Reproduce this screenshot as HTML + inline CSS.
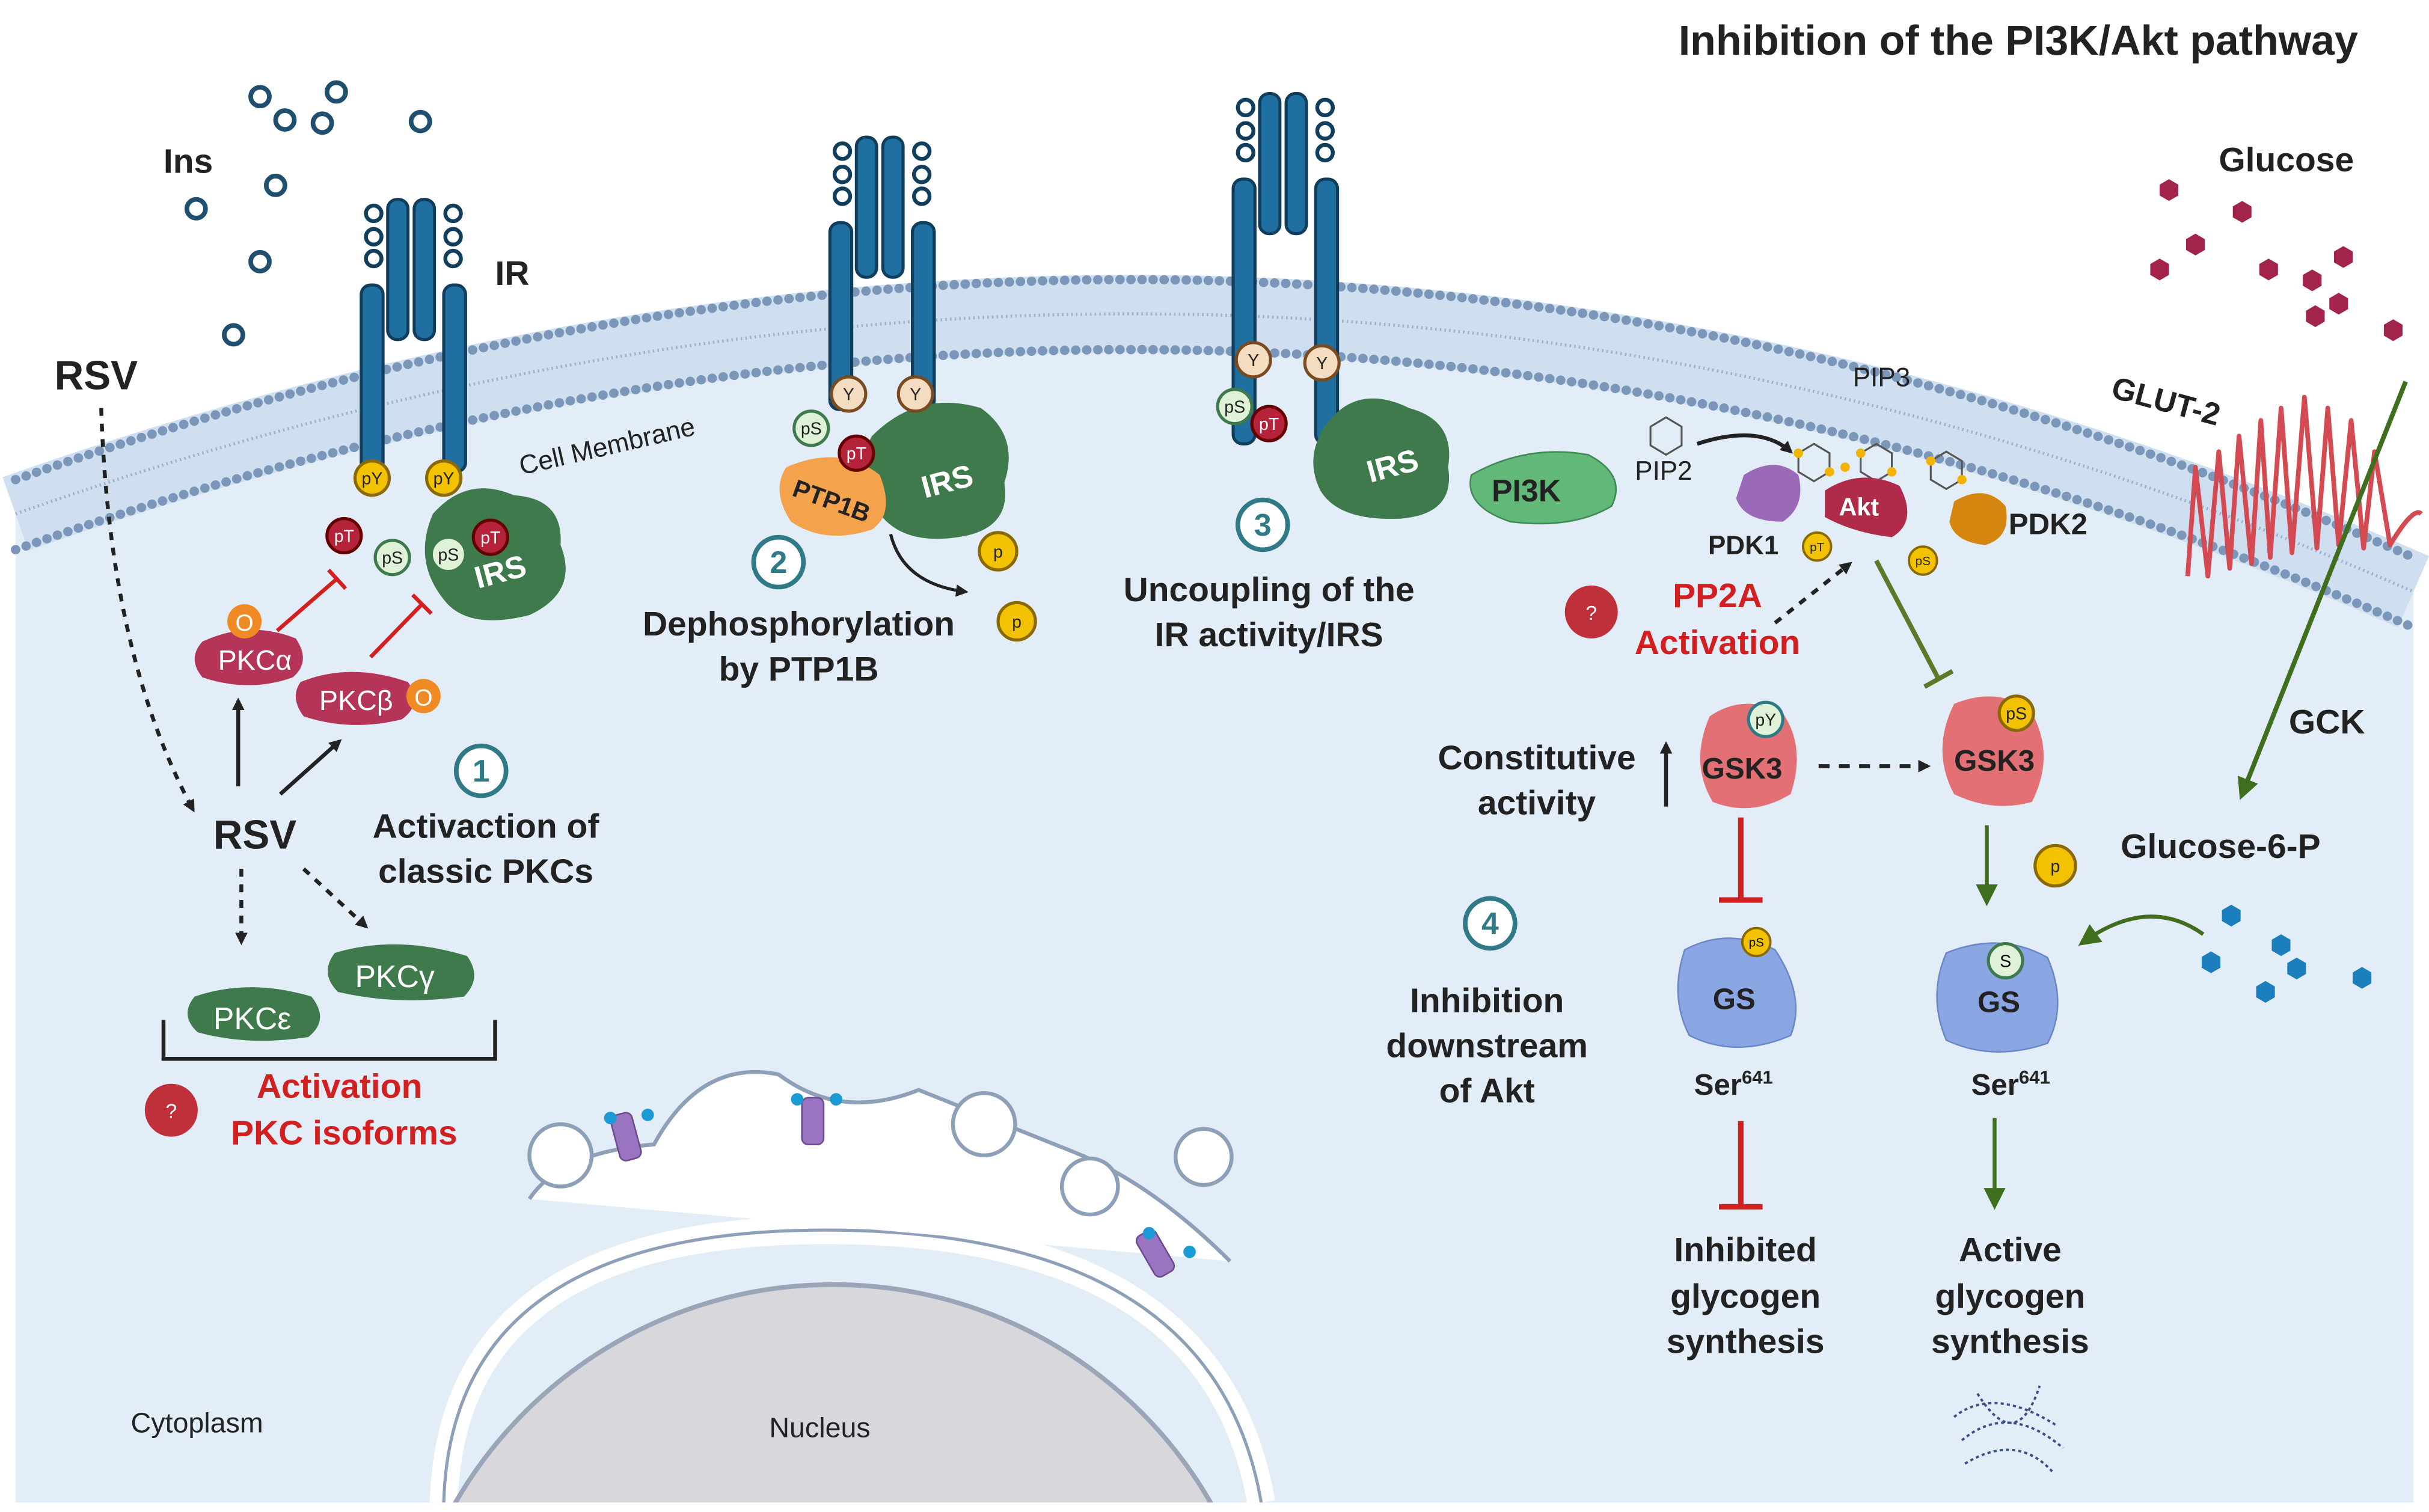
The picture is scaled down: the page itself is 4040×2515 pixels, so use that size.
<!DOCTYPE html>
<html><head><meta charset="utf-8"><style>
html,body{margin:0;padding:0;background:#fff;overflow:hidden;width:4040px;height:2515px}
svg{display:block}
text{font-family:"Liberation Sans",Arial,sans-serif}
.b{font-weight:bold;fill:#222}
.r{font-weight:bold;fill:#d21f1f}
</style></head><body>
<svg width="4040" height="2515" viewBox="0 0 1560 971" xmlns="http://www.w3.org/2000/svg">
<defs>
<marker id="ak" markerWidth="8" markerHeight="8" refX="6" refY="4" orient="auto" markerUnits="userSpaceOnUse"><path d="M0,0 L8,4 L0,8 z" fill="#222"/></marker>
<marker id="ag" markerWidth="14" markerHeight="14" refX="10" refY="7" orient="auto" markerUnits="userSpaceOnUse"><path d="M0,0 L14,7 L0,14 z" fill="#3f6e1e"/></marker>
<g id="hexr"><polygon points="0,-7 6,-3.5 6,3.5 0,7 -6,3.5 -6,-3.5" fill="#a3244a"/></g>
<g id="hexb"><polygon points="0,-7 6,-3.5 6,3.5 0,7 -6,3.5 -6,-3.5" fill="#1b7fbd"/></g>
<clipPath id="cell"><path d="M10,330 Q800,50 1550,380 L1550,965 L10,965 Z"/></clipPath>
</defs>
<rect width="1560" height="971" fill="#fff"/>
<path d="M10,330 Q800,50 1550,380 L1550,965 L10,965 Z" fill="#e3edf7"/>
<path d="M10,330 Q800,50 1550,380" fill="none" stroke="#cfdff0" stroke-width="50"/>
<path d="M10,330 Q800,50 1550,380" fill="none" stroke="#9cb3cf" stroke-width="2" stroke-dasharray="1 2"/>
<path d="M10,308 Q800,28 1550,358" fill="none" stroke="#7a96b8" stroke-width="6" stroke-linecap="round" stroke-dasharray="0.1 7"/>
<path d="M10,353 Q800,73 1550,403" fill="none" stroke="#7a96b8" stroke-width="6" stroke-linecap="round" stroke-dasharray="0.1 7"/>
<text x="335" y="305" font-size="17" fill="#222" transform="rotate(-13 335 305)">Cell Membrane</text>

<g clip-path="url(#cell)">
<path d="M285,965 Q290,790 530,790 Q780,790 810,965" fill="none" stroke="#fff" stroke-width="18"/>
<path d="M285,965 Q290,790 530,790 Q780,790 810,965" fill="none" stroke="#8ea0b8" stroke-width="2"/>
<circle cx="535" cy="1105" r="280" fill="#d8d8dc" stroke="#9aa6b8" stroke-width="3"/>
<path d="M340,770 Q360,740 420,735 Q450,680 500,690 Q540,720 590,700 Q640,720 690,740 Q740,760 790,810" fill="#fff" stroke="#8ea0b8" stroke-width="2.5"/>
</g>
<circle cx="360" cy="742" r="20" fill="#fff" stroke="#8ea0b8" stroke-width="2.5"/>
<circle cx="632" cy="722" r="20" fill="#fff" stroke="#8ea0b8" stroke-width="2.5"/>
<circle cx="700" cy="762" r="18" fill="#fff" stroke="#8ea0b8" stroke-width="2.5"/>
<circle cx="773" cy="743" r="18" fill="#fff" stroke="#8ea0b8" stroke-width="2.5"/>
<g fill="#9a74c0" stroke="#6a4a90"><rect x="395" y="715" width="14" height="30" rx="4" transform="rotate(-15 402 730)"/><rect x="515" y="705" width="14" height="30" rx="4"/><rect x="735" y="790" width="14" height="30" rx="4" transform="rotate(-30 742 805)"/></g>
<g fill="#1b9ad6"><circle cx="392" cy="718" r="4"/><circle cx="416" cy="716" r="4"/><circle cx="512" cy="706" r="4"/><circle cx="537" cy="706" r="4"/><circle cx="738" cy="792" r="4"/><circle cx="764" cy="804" r="4"/></g>
<text x="494" y="923" font-size="18" fill="#222">Nucleus</text>
<text x="84" y="920" font-size="18" fill="#222">Cytoplasm</text>

<g fill="none" stroke="#1f4e6e" stroke-width="3"><circle cx="167" cy="62" r="6"/><circle cx="216" cy="59" r="6"/><circle cx="183" cy="77" r="6"/><circle cx="207" cy="79" r="6"/><circle cx="270" cy="78" r="6"/><circle cx="126" cy="134" r="6"/><circle cx="177" cy="119" r="6"/><circle cx="167" cy="168" r="6"/><circle cx="150" cy="215" r="6"/></g>
<text x="105" y="111" font-size="22" class="b">Ins</text>
<text x="318" y="183" font-size="22" class="b">IR</text>

<g fill="#1f6fa0" stroke="#123e5e" stroke-width="2">
<rect x="232" y="183" width="14" height="120" rx="6"/><rect x="249" y="128" width="13" height="90" rx="6"/><rect x="266" y="128" width="13" height="90" rx="6"/><rect x="285" y="183" width="14" height="120" rx="6"/>
</g>
<g fill="none" stroke="#123e5e" stroke-width="2.5"><circle cx="240" cy="137" r="5"/><circle cx="240" cy="152" r="5"/><circle cx="240" cy="166" r="5"/><circle cx="291" cy="137" r="5"/><circle cx="291" cy="152" r="5"/><circle cx="291" cy="166" r="5"/></g>
<g transform="translate(301,-40)">
<g fill="#1f6fa0" stroke="#123e5e" stroke-width="2"><rect x="232" y="183" width="14" height="120" rx="6"/><rect x="249" y="128" width="13" height="90" rx="6"/><rect x="266" y="128" width="13" height="90" rx="6"/><rect x="285" y="183" width="14" height="120" rx="6"/></g>
<g fill="none" stroke="#123e5e" stroke-width="2.5"><circle cx="240" cy="137" r="5"/><circle cx="240" cy="152" r="5"/><circle cx="240" cy="166" r="5"/><circle cx="291" cy="137" r="5"/><circle cx="291" cy="152" r="5"/><circle cx="291" cy="166" r="5"/></g></g>
<g transform="translate(560,-68)">
<g fill="#1f6fa0" stroke="#123e5e" stroke-width="2"><rect x="232" y="183" width="14" height="170" rx="6"/><rect x="249" y="128" width="13" height="90" rx="6"/><rect x="266" y="128" width="13" height="90" rx="6"/><rect x="285" y="183" width="14" height="170" rx="6"/></g>
<g fill="none" stroke="#123e5e" stroke-width="2.5"><circle cx="240" cy="137" r="5"/><circle cx="240" cy="152" r="5"/><circle cx="240" cy="166" r="5"/><circle cx="291" cy="137" r="5"/><circle cx="291" cy="152" r="5"/><circle cx="291" cy="166" r="5"/></g></g>

<g fill="#3f7a4c">
<path d="M278,330 Q300,305 330,318 Q362,320 360,350 Q372,380 340,395 Q300,405 285,385 Q265,360 278,330Z"/>
<path d="M560,280 Q590,250 630,262 Q655,280 645,310 Q650,340 615,345 Q580,350 565,330 Q545,305 560,280Z"/>
<path d="M850,275 Q870,245 905,262 Q935,270 930,300 Q935,330 900,333 Q860,335 848,315 Q838,295 850,275Z"/>
</g>
<g class="b" font-size="20"><text x="307" y="378" transform="rotate(-15 307 378)" style="fill:#fff">IRS</text><text x="594" y="320" transform="rotate(-15 594 320)" style="fill:#fff">IRS</text><text x="880" y="310" transform="rotate(-15 880 310)" style="fill:#fff">IRS</text></g>
<path d="M505,300 Q540,285 565,305 Q575,330 560,340 Q530,350 508,335 Q495,315 505,300Z" fill="#f4a24c"/>
<text x="508" y="318" font-size="16" class="b" transform="rotate(20 508 318)">PTP1B</text>

<g font-size="11" text-anchor="middle">
<circle cx="239" cy="307" r="11" fill="#f2c200" stroke="#8a6a00" stroke-width="2"/><text x="239" y="311" fill="#222">pY</text>
<circle cx="285" cy="307" r="11" fill="#f2c200" stroke="#8a6a00" stroke-width="2"/><text x="285" y="311" fill="#222">pY</text>
<circle cx="221" cy="344" r="11" fill="#b5233a" stroke="#600" stroke-width="2"/><text x="221" y="348" fill="#fff">pT</text>
<circle cx="252" cy="358" r="11" fill="#dff2d8" stroke="#3f7a4c" stroke-width="2"/><text x="252" y="362" fill="#222">pS</text>
<circle cx="288" cy="356" r="11" fill="#dff2d8" stroke="#3f7a4c" stroke-width="2"/><text x="288" y="360" fill="#222">pS</text>
<circle cx="315" cy="345" r="11" fill="#b5233a" stroke="#600" stroke-width="2"/><text x="315" y="349" fill="#fff">pT</text>
<circle cx="545" cy="253" r="11" fill="#f3dcc0" stroke="#7a4a20" stroke-width="2"/><text x="545" y="257" fill="#222">Y</text>
<circle cx="588" cy="253" r="11" fill="#f3dcc0" stroke="#7a4a20" stroke-width="2"/><text x="588" y="257" fill="#222">Y</text>
<circle cx="521" cy="275" r="11" fill="#dff2d8" stroke="#3f7a4c" stroke-width="2"/><text x="521" y="279" fill="#222">pS</text>
<circle cx="550" cy="291" r="11" fill="#b5233a" stroke="#600" stroke-width="2"/><text x="550" y="295" fill="#fff">pT</text>
<circle cx="805" cy="231" r="11" fill="#f3dcc0" stroke="#7a4a20" stroke-width="2"/><text x="805" y="235" fill="#222">Y</text>
<circle cx="849" cy="233" r="11" fill="#f3dcc0" stroke="#7a4a20" stroke-width="2"/><text x="849" y="237" fill="#222">Y</text>
<circle cx="793" cy="261" r="11" fill="#dff2d8" stroke="#3f7a4c" stroke-width="2"/><text x="793" y="265" fill="#222">pS</text>
<circle cx="815" cy="272" r="11" fill="#b5233a" stroke="#600" stroke-width="2"/><text x="815" y="276" fill="#fff">pT</text>
<circle cx="641" cy="354" r="12" fill="#f2c200" stroke="#8a6a00" stroke-width="2"/><text x="641" y="358" fill="#222">p</text>
<circle cx="653" cy="399" r="12" fill="#f2c200" stroke="#8a6a00" stroke-width="2"/><text x="653" y="403" fill="#222">p</text>
<circle cx="1320" cy="556" r="13" fill="#f2c200" stroke="#8a6a00" stroke-width="2"/><text x="1320" y="560" fill="#222">p</text>
<circle cx="1167" cy="351" r="9" fill="#f2c200" stroke="#8a6a00" stroke-width="1.5"/><text x="1167" y="354" font-size="8" fill="#222">pT</text>
<circle cx="1235" cy="360" r="9" fill="#f2c200" stroke="#8a6a00" stroke-width="1.5"/><text x="1235" y="363" font-size="8" fill="#222">pS</text>
</g>
<path d="M572,343 Q580,375 620,380" fill="none" stroke="#222" stroke-width="2" marker-end="url(#ak)"/>

<g fill="#b53558"><path d="M130,412 Q160,398 190,410 Q200,425 188,435 Q160,445 130,435 Q120,423 130,412Z"/><path d="M193,438 Q225,425 262,438 Q272,452 258,462 Q225,470 195,460 Q186,448 193,438Z"/></g>
<g fill="#3f7a4c"><path d="M125,640 Q160,628 200,640 Q212,655 198,666 Q160,672 127,663 Q115,652 125,640Z"/><path d="M215,612 Q255,600 300,614 Q310,628 298,640 Q255,646 217,637 Q205,625 215,612Z"/></g>
<g font-size="18"><text x="140" y="430" style="fill:#fff">PKCα</text><text x="205" y="456" style="fill:#fff">PKCβ</text><text x="137" y="661" font-size="20" style="fill:#fff">PKCε</text><text x="228" y="634" font-size="20" style="fill:#fff">PKCγ</text></g>
<circle cx="157" cy="399" r="11" fill="#ef8a25"/><text x="157" y="405" font-size="15" text-anchor="middle" fill="#fff">O</text>
<circle cx="272" cy="447" r="11" fill="#ef8a25"/><text x="272" y="453" font-size="15" text-anchor="middle" fill="#fff">O</text>
<g stroke="#d21f1f" stroke-width="2.5"><line x1="178" y1="405" x2="216" y2="372"/><line x1="211" y1="366" x2="222" y2="378"/><line x1="238" y1="422" x2="271" y2="388"/><line x1="265" y1="382" x2="277" y2="394"/></g>

<text x="35" y="250" font-size="26" class="b">RSV</text>
<text x="137" y="545" font-size="26" class="b">RSV</text>
<path d="M65,262 Q70,420 124,520" fill="none" stroke="#222" stroke-width="2.5" stroke-dasharray="5 5" marker-end="url(#ak)"/>
<g stroke="#222" stroke-width="2.5" fill="none">
<line x1="153" y1="505" x2="153" y2="450" marker-end="url(#ak)"/>
<line x1="180" y1="510" x2="218" y2="476" marker-end="url(#ak)"/>
<line x1="155" y1="558" x2="155" y2="605" stroke-dasharray="5 5" marker-end="url(#ak)"/>
<line x1="195" y1="558" x2="235" y2="595" stroke-dasharray="5 5" marker-end="url(#ak)"/>
<path d="M105,655 L105,680 L318,680 L318,655"/>
</g>

<g fill="#fff" stroke="#2f7a86" stroke-width="3"><circle cx="309" cy="495" r="16"/><circle cx="500" cy="361" r="16"/><circle cx="811" cy="337" r="16"/><circle cx="957" cy="593" r="16"/></g>
<g font-size="20" text-anchor="middle" font-weight="bold"><text x="309" y="502" style="fill:#2f7a86">1</text><text x="500" y="368" style="fill:#2f7a86">2</text><text x="811" y="344" style="fill:#2f7a86">3</text><text x="957" y="600" style="fill:#2f7a86">4</text></g>

<g class="b" font-size="22" text-anchor="middle">
<text x="312" y="538">Activaction of</text><text x="312" y="567">classic PKCs</text>
<text x="513" y="408">Dephosphorylation</text><text x="513" y="437">by PTP1B</text>
<text x="815" y="386">Uncoupling of the</text><text x="815" y="415">IR activity/IRS</text>
<text x="955" y="650">Inhibition</text><text x="955" y="679">downstream</text><text x="955" y="708">of Akt</text>
<text x="987" y="494">Constitutive</text><text x="987" y="523">activity</text>
<text x="1121" y="810">Inhibited</text><text x="1121" y="840">glycogen</text><text x="1121" y="869">synthesis</text>
<text x="1291" y="810">Active</text><text x="1291" y="840">glycogen</text><text x="1291" y="869">synthesis</text>
</g>
<g font-size="22" text-anchor="middle"><text x="218" y="705" class="r">Activation</text><text x="221" y="735" class="r">PKC isoforms</text><text x="1103" y="390" class="r">PP2A</text><text x="1103" y="420" class="r">Activation</text></g>
<g><circle cx="110" cy="713" r="17" fill="#c0303a"/><circle cx="1022" cy="393" r="17" fill="#c0303a"/><text x="110" y="718" font-size="13" fill="#fff" text-anchor="middle">?</text><text x="1022" y="398" font-size="13" fill="#fff" text-anchor="middle">?</text></g>

<text x="1078" y="35" font-size="27" class="b">Inhibition of the PI3K/Akt pathway</text>

<path d="M945,305 Q980,285 1020,292 Q1045,305 1035,325 Q1010,340 970,335 Q940,325 945,305Z" fill="#62b878" stroke="#3f8a55"/>
<text x="958" y="322" font-size="20" class="b">PI3K</text>
<text x="1050" y="308" font-size="17" fill="#222">PIP2</text>
<text x="1190" y="248" font-size="17" fill="#222">PIP3</text>
<path d="M1090,285 Q1130,272 1150,290" fill="none" stroke="#222" stroke-width="2.5" marker-end="url(#ak)"/>
<g fill="none" stroke="#555" stroke-width="1.2"><polygon points="1070,268 1080,274 1080,286 1070,292 1060,286 1060,274"/><polygon points="1165,285 1175,291 1175,303 1165,309 1155,303 1155,291"/><polygon points="1205,285 1215,291 1215,303 1205,309 1195,303 1195,291"/><polygon points="1250,290 1260,296 1260,308 1250,314 1240,308 1240,296"/></g>
<g fill="#f2b400"><circle cx="1155" cy="291" r="3"/><circle cx="1175" cy="303" r="3"/><circle cx="1195" cy="291" r="3"/><circle cx="1215" cy="303" r="3"/><circle cx="1240" cy="296" r="3"/><circle cx="1260" cy="308" r="3"/><circle cx="1185" cy="300" r="3"/></g>
<path d="M1120,305 Q1140,292 1155,305 Q1160,325 1145,335 Q1120,335 1115,320Z" fill="#9a6ab8"/>
<text x="1097" y="356" font-size="17" class="b">PDK1</text>
<path d="M1172,315 Q1195,300 1220,312 Q1232,335 1215,345 Q1190,342 1172,332Z" fill="#b02a4a"/>
<text x="1181" y="331" font-size="16" font-weight="bold" style="fill:#fff">Akt</text>
<path d="M1255,322 Q1275,310 1288,325 Q1292,345 1275,350 Q1255,348 1252,335Z" fill="#d4860e"/>
<text x="1290" y="343" font-size="19" class="b">PDK2</text>
<line x1="1140" y1="400" x2="1188" y2="362" stroke="#222" stroke-width="2.5" stroke-dasharray="5 5" marker-end="url(#ak)"/>
<g stroke="#5a7a2a" stroke-width="3"><line x1="1205" y1="360" x2="1245" y2="436"/><line x1="1236" y1="441" x2="1254" y2="431"/></g>

<path d="M1098,460 Q1120,445 1145,458 Q1160,480 1150,510 Q1125,525 1100,515 Q1085,490 1098,460Z" fill="#e37074"/>
<path d="M1255,452 Q1285,440 1305,458 Q1320,485 1305,515 Q1280,522 1255,510 Q1240,482 1255,452Z" fill="#e37074"/>
<text x="1093" y="500" font-size="19" class="b">GSK3</text><text x="1255" y="495" font-size="19" class="b">GSK3</text>
<circle cx="1134" cy="462" r="11" fill="#dff2d8" stroke="#2f7a86" stroke-width="2"/><text x="1134" y="466" font-size="11" text-anchor="middle" fill="#222">pY</text>
<circle cx="1295" cy="458" r="11" fill="#f2c200" stroke="#8a6a00" stroke-width="2"/><text x="1295" y="462" font-size="11" text-anchor="middle" fill="#222">pS</text>
<line x1="1070" y1="518" x2="1070" y2="478" stroke="#222" stroke-width="2.5" marker-end="url(#ak)"/>
<line x1="1168" y1="492" x2="1238" y2="492" stroke="#222" stroke-width="2.5" stroke-dasharray="7 6" marker-end="url(#ak)"/>
<path d="M1082,610 Q1110,595 1140,610 Q1160,640 1150,665 Q1115,680 1085,665 Q1072,640 1082,610Z" fill="#8aa7e4" stroke="#6a88c8"/>
<path d="M1250,612 Q1285,598 1315,615 Q1328,645 1315,670 Q1280,682 1250,668 Q1238,640 1250,612Z" fill="#8aa7e4" stroke="#6a88c8"/>
<text x="1100" y="648" font-size="19" class="b">GS</text><text x="1270" y="650" font-size="19" class="b">GS</text>
<circle cx="1128" cy="605" r="9" fill="#f2c200" stroke="#8a6a00" stroke-width="1.5"/><text x="1128" y="608" font-size="8" text-anchor="middle">pS</text>
<circle cx="1288" cy="617" r="11" fill="#dff2d8" stroke="#3f7a4c" stroke-width="2"/><text x="1288" y="621" font-size="11" text-anchor="middle">S</text>
<text x="1088" y="703" font-size="19" class="b">Ser<tspan font-size="12" dy="-7">641</tspan></text>
<text x="1266" y="703" font-size="19" class="b">Ser<tspan font-size="12" dy="-7">641</tspan></text>
<g stroke="#d21f1f" stroke-width="3.5"><line x1="1118" y1="525" x2="1118" y2="578"/><line x1="1104" y1="578" x2="1132" y2="578"/><line x1="1118" y1="720" x2="1118" y2="775"/><line x1="1104" y1="775" x2="1132" y2="775"/></g>
<g stroke="#3f6e1e" stroke-width="2.5"><line x1="1276" y1="530" x2="1276" y2="578" marker-end="url(#ag)"/><line x1="1281" y1="718" x2="1281" y2="773" marker-end="url(#ag)"/></g>
<path d="M1415,600 Q1380,575 1338,605" fill="none" stroke="#3f6e1e" stroke-width="2.5" marker-end="url(#ag)"/>
<g fill="none" stroke="#3a4f8a" stroke-width="1.5" stroke-dasharray="2 2"><path d="M1255,910 Q1280,890 1320,915 M1260,925 Q1290,900 1325,930 M1270,895 Q1295,935 1310,890 M1262,940 Q1295,920 1318,945"/></g>

<path d="M1405,370 L1410,300 L1418,370 L1425,290 L1432,365 L1438,280 L1446,362 L1452,270 L1458,358 L1465,262 L1472,355 L1480,255 L1488,352 L1495,262 L1502,350 L1510,270 L1518,352 L1525,290 L1535,350 Q1550,325 1555,330" fill="none" stroke="#d44a52" stroke-width="3" stroke-linejoin="round"/>
<text x="1355" y="255" font-size="20" class="b" transform="rotate(15 1355 255)">GLUT-2</text>
<line x1="1545" y1="245" x2="1440" y2="510" stroke="#3f6e1e" stroke-width="3" marker-end="url(#ag)"/>
<text x="1470" y="471" font-size="22" class="b">GCK</text>
<text x="1362" y="551" font-size="22" class="b">Glucose-6-P</text>
<text x="1425" y="110" font-size="22" class="b">Glucose</text>
<use href="#hexr" x="1393" y="122"/><use href="#hexr" x="1440" y="136"/><use href="#hexr" x="1410" y="157"/><use href="#hexr" x="1387" y="173"/><use href="#hexr" x="1457" y="173"/><use href="#hexr" x="1505" y="165"/><use href="#hexr" x="1485" y="180"/><use href="#hexr" x="1502" y="195"/><use href="#hexr" x="1487" y="203"/><use href="#hexr" x="1537" y="212"/>
<use href="#hexb" x="1433" y="588"/><use href="#hexb" x="1465" y="607"/><use href="#hexb" x="1420" y="618"/><use href="#hexb" x="1455" y="637"/><use href="#hexb" x="1475" y="622"/><use href="#hexb" x="1517" y="628"/>
</svg>
</body></html>
